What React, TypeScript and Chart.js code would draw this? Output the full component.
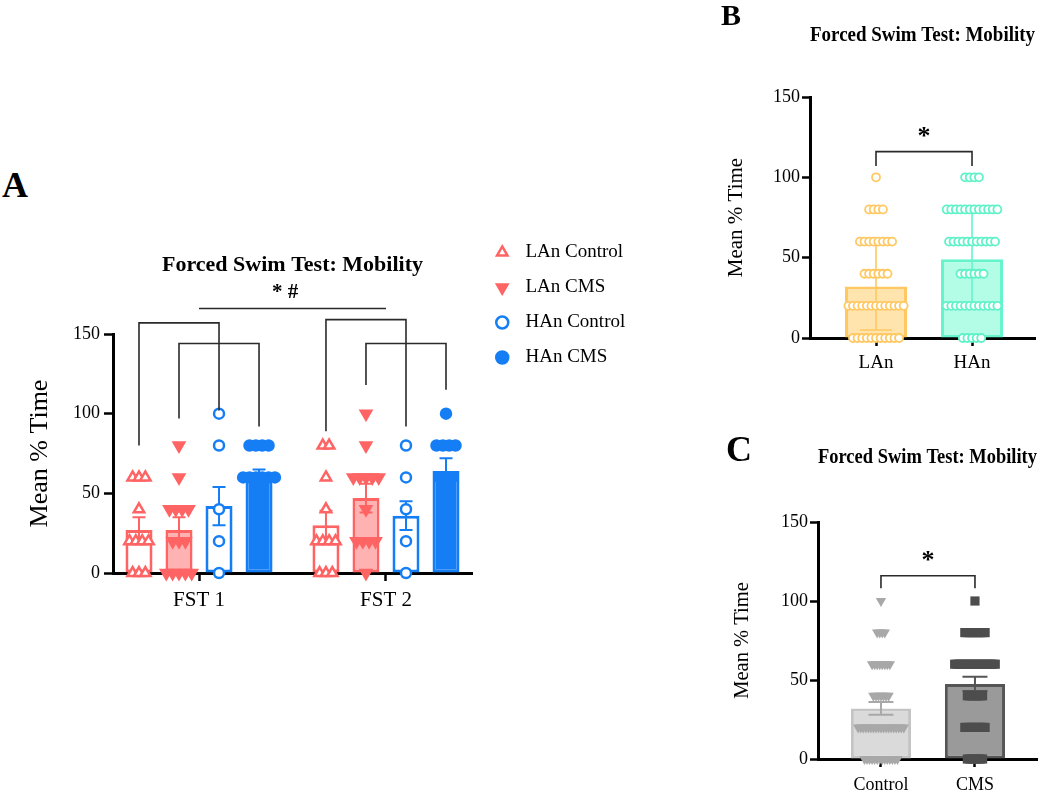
import React, { useEffect, useRef } from 'react';
import { Chart, registerables } from 'chart.js';

Chart.register(...registerables);

const SERIF = "'Times New Roman', 'Liberation Serif', serif";
Chart.defaults.font.family = SERIF;
Chart.defaults.color = '#000';

// ---------------- Panel A data ----------------
const fstCategories = ['FST 1', 'FST 2'];
const groupLabels = ['LAn Control', 'LAn CMS', 'HAn Control', 'HAn CMS'];
const yTickValues = [0, 50, 100, 150];

const meanLAnControl = [27, 30];
const meanLAnCMS = [27, 47];
const meanHAnControl = [42, 36];
const meanHAnCMS = [62, 64];

const semLAnControl = [8, 9];
const semLAnCMS = [8, 9];
const semHAnControl = [12, 9];
const semHAnCMS = [3, 8];

const ptsLAnControlFST1 = [60, 60, 60, 40, 20, 20, 20, 20, 0, 0, 0];
const ptsLAnControlFST2 = [80, 80, 60, 40, 20, 20, 20, 20, 0, 0, 0];
const ptsLAnCMSFST1 = [80, 60, 40, 40, 40, 40, 20, 20, 20, 0, 0, 0, 0, 0];
const ptsLAnCMSFST2 = [100, 80, 60, 60, 60, 60, 60, 40, 20, 20, 20, 20, 0];
const ptsHAnControlFST1 = [100, 80, 40, 20, 0];
const ptsHAnControlFST2 = [80, 60, 40, 20, 0];
const ptsHAnCMSFST1 = [80, 80, 80, 80, 60, 60, 60, 60, 60, 60];
const ptsHAnCMSFST2 = [100, 80, 80, 80, 80, 60, 60, 60];

// significance annotations (value units)
const sigBracketsA = [
  { cat: 0, from: 0, to: 2, leftY: 80, rightY: 102, topY: 157 },
  { cat: 0, from: 1, to: 3, leftY: 97, rightY: 92, topY: 144 },
  { cat: 1, from: 0, to: 2, leftY: 89, rightY: 92, topY: 159 },
  { cat: 1, from: 1, to: 3, leftY: 118, rightY: 115, topY: 144 },
];
const sigLineA = { fromCat: 0, toCat: 1, y: 166 };
const sigTextA = { text: '* #', x: 0.46, y: 176 };

// ---------------- Panel B data ----------------
const bCategories = ['LAn', 'HAn'];
const bMeans = [32, 49];
const bSD = [27, 30];
const bPtsLAn = [100, 80, 80, 80, 80, 60, 60, 60, 60, 60, 60, 60, 60, 40, 40, 40, 40, 40, 40,
  20, 20, 20, 20, 20, 20, 20, 20, 20, 20, 20, 20, 20, 0, 0, 0, 0, 0, 0, 0, 0, 0, 0, 0];
const bPtsHAn = [100, 100, 100, 100, 80, 80, 80, 80, 80, 80, 80, 80, 80, 80, 80, 80,
  60, 60, 60, 60, 60, 60, 60, 60, 60, 60, 60, 40, 40, 40, 40, 40, 40,
  20, 20, 20, 20, 20, 20, 20, 20, 20, 20, 20, 20, 0, 0, 0, 0, 0];
const sigB = { from: 0, to: 1, legY: 107, topY: 116, starY: 125 };

// ---------------- Panel C data ----------------
const cCategories = ['Control', 'CMS'];
const cMeans = [32, 47.5];
const cSEM = [4, 4.5];
const cPtsControl = [100, 80, 80, 80, 80, 60, 60, 60, 60, 60, 60, 60, 60, 40, 40, 40, 40, 40, 40, 40,
  20, 20, 20, 20, 20, 20, 20, 20, 20, 20, 20, 20, 20, 20, 20, 20, 20, 20, 20,
  0, 0, 0, 0, 0, 0, 0, 0, 0, 0, 0, 0, 0, 0];
const cPtsCMS = [100, 80, 80, 80, 80, 80, 80, 80, 80, 80,
  60, 60, 60, 60, 60, 60, 60, 60, 60, 60, 60, 60, 60, 60, 60, 60, 60,
  40, 40, 40, 40, 40, 40, 40, 20, 20, 20, 20, 20, 20, 20, 20, 20, 0, 0, 0, 0, 0, 0, 0];
const sigC = { from: 0, to: 1, legY: 108, topY: 116, starY: 125 };

// ---------------- helpers ----------------
type Pt = { x: number; y: number };
function spreadRow(values: number[], center: number, step: number): Pt[] {
  const counts = new Map<number, number>();
  const seen = new Map<number, number>();
  values.forEach((v) => counts.set(v, (counts.get(v) || 0) + 1));
  return values.map((v) => {
    const n = counts.get(v) || 1;
    const k = seen.get(v) || 0;
    seen.set(v, k + 1);
    return { x: center + (k - (n - 1) / 2) * step, y: v };
  });
}

const errorBarsPlugin = {
  id: 'errorBars',
  afterDatasetDraw(chart: any, args: any) {
    const ds = chart.data.datasets[args.index];
    if (!ds.errors) return;
    const ys = chart.scales.y;
    const ctx = chart.ctx;
    ctx.save();
    ctx.lineWidth = ds.errorWidth || 2;
    args.meta.data.forEach((el: any, i: number) => {
      const v = ds.data[i].y;
      const e = ds.errors[i];
      ctx.strokeStyle = Array.isArray(ds.errorColor) ? ds.errorColor[i] : ds.errorColor;
      const x = el.x;
      const yt = ys.getPixelForValue(v + e);
      const yb = ys.getPixelForValue(v - e);
      const h = ds.capHalf || 6;
      ctx.beginPath();
      ctx.moveTo(x, yt);
      ctx.lineTo(x, yb);
      ctx.moveTo(x - h, yt);
      ctx.lineTo(x + h, yt);
      ctx.moveTo(x - h, yb);
      ctx.lineTo(x + h, yb);
      ctx.stroke();
    });
    ctx.restore();
  },
};

const sigPlugin = {
  id: 'sigMarks',
  afterDatasetsDraw(chart: any, _a: any, opts: any) {
    const ctx = chart.ctx;
    const xs = chart.scales.x;
    const ys = chart.scales.y;
    ctx.save();
    ctx.strokeStyle = opts.color || '#222';
    ctx.lineWidth = opts.lineWidth || 1.5;
    (opts.brackets || []).forEach((b: any) => {
      const x1 = xs.getPixelForValue(b.x1);
      const x2 = xs.getPixelForValue(b.x2);
      ctx.beginPath();
      ctx.moveTo(x1, ys.getPixelForValue(b.leftY));
      ctx.lineTo(x1, ys.getPixelForValue(b.topY));
      ctx.lineTo(x2, ys.getPixelForValue(b.topY));
      ctx.lineTo(x2, ys.getPixelForValue(b.rightY));
      ctx.stroke();
    });
    ctx.fillStyle = '#000';
    ctx.textAlign = 'center';
    ctx.textBaseline = 'middle';
    (opts.labels || []).forEach((t: any) => {
      ctx.font = t.font;
      ctx.fillText(t.text, xs.getPixelForValue(t.x), ys.getPixelForValue(t.y));
    });
    ctx.restore();
  },
};

const legendShiftPlugin = {
  id: 'legendShift',
  afterLayout(chart: any, _a: any, opts: any) {
    const lg = chart.legend;
    if (lg && opts && opts.dx) {
      lg.left += opts.dx;
      lg.right += opts.dx;
    }
  },
};

function axisX(categories: string[], min: number, max: number, height: number, fontSize: number, pad: number) {
  return {
    type: 'linear',
    min,
    max,
    offset: false,
    afterBuildTicks: (s: any) => {
      s.ticks = categories.map((_c, i) => ({ value: i }));
    },
    afterFit: (s: any) => {
      s.height = height;
    },
    ticks: {
      callback: (_v: any, i: number) => categories[i],
      color: '#000',
      font: { family: SERIF, size: fontSize },
      padding: pad,
      maxRotation: 0,
      autoSkip: false,
    },
    grid: { display: true, drawOnChartArea: false, drawTicks: true, tickLength: 8, tickWidth: 2.5, tickColor: '#000', offset: false },
    border: { display: true, color: '#000', width: 3 },
  };
}

function axisY(width: number, tickFont: number, tickPad: number, tickLen: number, titleSize: number, titlePad: number) {
  return {
    type: 'linear',
    min: 0,
    max: 150,
    afterBuildTicks: (s: any) => {
      s.ticks = yTickValues.map((v) => ({ value: v }));
    },
    afterFit: (s: any) => {
      s.width = width;
    },
    ticks: { color: '#000', font: { family: SERIF, size: tickFont }, padding: tickPad },
    grid: { display: true, drawOnChartArea: false, drawTicks: true, tickLength: tickLen, tickWidth: 2.5, tickColor: '#000' },
    border: { display: true, color: '#000', width: 3 },
    title: {
      display: true,
      text: 'Mean % Time',
      color: '#000',
      font: { family: SERIF, size: titleSize },
      padding: { top: titlePad, bottom: 0 },
    },
  };
}

// ---------------- Panel A config ----------------
const RED = '#FF6464';
const RED_FILL = '#FFB2B2';
const BLUE = '#167EF5';
const catPctA = 0.856;
const barPctA = 0.675;
const groupOffset = (g: number) => -catPctA / 2 + (g + 0.5) * (catPctA / 4);

function buildA() {
  const means = [meanLAnControl, meanLAnCMS, meanHAnControl, meanHAnCMS];
  const sems = [semLAnControl, semLAnCMS, semHAnControl, semHAnCMS];
  const pts = [
    [ptsLAnControlFST1, ptsLAnControlFST2],
    [ptsLAnCMSFST1, ptsLAnCMSFST2],
    [ptsHAnControlFST1, ptsHAnControlFST2],
    [ptsHAnCMSFST1, ptsHAnCMSFST2],
  ];
  const ptStyles = [
    { style: 'triangle', rot: 0, bg: '#ffffff', border: RED, r: 6 },
    { style: 'triangle', rot: 180, bg: RED, border: RED, r: 6 },
    { style: 'circle', rot: 0, bg: '#ffffff', border: BLUE, r: 5 },
    { style: 'circle', rot: 0, bg: BLUE, border: BLUE, r: 5 },
  ];
  const barStyles = [
    { bg: '#ffffff', border: RED },
    { bg: RED_FILL, border: RED },
    { bg: '#ffffff', border: BLUE },
    { bg: BLUE, border: BLUE },
  ];
  const scatterSets = groupLabels.map((label, g) => ({
    type: 'scatter',
    label,
    order: 0,
    clip: false,
    showLine: false,
    data: fstCategories.flatMap((_c, c) => spreadRow(pts[g][c], c + groupOffset(g), 0.034)),
    pointStyle: ptStyles[g].style,
    pointRotation: ptStyles[g].rot,
    pointRadius: ptStyles[g].r,
    pointHoverRadius: ptStyles[g].r,
    pointBorderWidth: 2.5,
    pointBackgroundColor: ptStyles[g].bg,
    pointBorderColor: ptStyles[g].border,
    backgroundColor: ptStyles[g].bg,
    borderColor: ptStyles[g].border,
  }));
  const barSets = groupLabels.map((label, g) => ({
    type: 'bar',
    label,
    order: 1,
    data: means[g].map((m, c) => ({ x: c, y: m })),
    errors: sems[g],
    errorColor: barStyles[g].border,
    errorWidth: 2,
    capHalf: 6.5,
    backgroundColor: barStyles[g].bg,
    borderColor: barStyles[g].border,
    borderWidth: 3,
    borderSkipped: false,
    categoryPercentage: catPctA,
    barPercentage: barPctA,
  }));
  const brackets = sigBracketsA.map((b) => ({
    x1: b.cat + groupOffset(b.from),
    x2: b.cat + groupOffset(b.to),
    leftY: b.leftY,
    rightY: b.rightY,
    topY: b.topY,
  }));
  brackets.push({ x1: sigLineA.fromCat, x2: sigLineA.toCat, leftY: sigLineA.y, rightY: sigLineA.y, topY: sigLineA.y });
  return {
    type: 'bar',
    data: { datasets: [...scatterSets, ...barSets] },
    plugins: [errorBarsPlugin, sigPlugin, legendShiftPlugin],
    options: {
      responsive: false,
      animation: false,
      events: [],
      layout: { padding: { left: 0, right: 18, top: 0, bottom: 0 } },
      plugins: {
        title: {
          display: true,
          text: 'Forced Swim Test: Mobility',
          fullSize: false,
          color: '#000',
          font: { family: SERIF, size: 22, weight: 'bold', lineHeight: 1.2 },
          padding: { top: 24.8, bottom: 55.8 },
        },
        legend: {
          display: true,
          position: 'right',
          align: 'start',
          fullSize: true,
          maxWidth: 170,
          labels: {
            usePointStyle: true,
            boxWidth: 8.5,
            boxHeight: 8.5,
            padding: 16,
            color: '#000',
            font: { family: SERIF, size: 19 },
            filter: (item: any, data: any) => data.datasets[item.datasetIndex].type === 'scatter',
            generateLabels: (chart: any) =>
              (Chart.defaults.plugins.legend.labels as any)
                .generateLabels(chart)
                .map((it: any) => ({ ...it, text: '  ' + it.text + '            ' })),
          },
        },
        tooltip: { enabled: false },
        legendShift: { dx: 10 },
        sigMarks: {
          color: '#2a2a2a',
          lineWidth: 1.6,
          brackets,
          labels: [{ text: sigTextA.text, x: sigTextA.x, y: sigTextA.y, font: `bold 21px ${SERIF}` }],
        },
      },
      scales: {
        x: axisX(fstCategories, -0.46, 1.46, 50, 21, 6.4),
        y: axisY(113, 18, 4, 9, 26, 24.4),
      },
    },
  };
}

// ---------------- Panels B / C config ----------------
function buildSingle(p: any) {
  const scatterSets = p.categories.map((label: string, c: number) => ({
    type: 'scatter',
    label,
    order: 0,
    clip: false,
    showLine: false,
    data: spreadRow(p.pts[c], c, p.step),
    pointStyle: p.ptStyle[c],
    pointRotation: p.ptRot[c],
    pointRadius: p.ptRadius[c],
    pointHoverRadius: p.ptRadius[c],
    pointBorderWidth: p.ptBorderWidth,
    pointBackgroundColor: p.ptBg[c],
    pointBorderColor: p.ptBorder[c],
  }));
  const barSet = {
    type: 'bar',
    label: 'mean',
    order: 1,
    data: p.means.map((m: number, c: number) => ({ x: c, y: m })),
    errors: p.errs,
    errorColor: p.errColor,
    errorWidth: p.errWidth,
    capHalf: p.capHalf,
    backgroundColor: p.barBg,
    borderColor: p.barBorder,
    borderWidth: 3,
    borderSkipped: false,
    categoryPercentage: 1,
    barPercentage: p.barPct,
  };
  return {
    type: 'bar',
    data: { datasets: [...scatterSets, barSet] },
    plugins: [errorBarsPlugin, sigPlugin],
    options: {
      responsive: false,
      animation: false,
      events: [],
      layout: { padding: { left: 0, right: p.padRight, top: 0, bottom: 0 } },
      plugins: {
        title: {
          display: true,
          text: 'Forced Swim Test: Mobility',
          fullSize: false,
          color: '#000',
          font: { family: SERIF, size: p.titleSize, weight: 'bold', lineHeight: 1.2 },
          padding: p.titlePad,
        },
        legend: { display: false },
        tooltip: { enabled: false },
        sigMarks: {
          color: '#2a2a2a',
          lineWidth: 1.6,
          brackets: [{ x1: p.sig.from, x2: p.sig.to, leftY: p.sig.legY, rightY: p.sig.legY, topY: p.sig.topY }],
          labels: [{ text: '*', x: (p.sig.from + p.sig.to) / 2, y: p.sig.starY, font: `bold 26px ${SERIF}` }],
        },
      },
      scales: {
        x: axisX(p.categories, p.xMin, p.xMax, p.xHeight, p.xFont, p.xPad),
        y: axisY(p.yWidth, 18, 2, 8, p.yTitleSize, p.yTitlePad),
      },
    },
  };
}

function buildB() {
  return buildSingle({
    categories: bCategories,
    means: bMeans,
    errs: bSD,
    pts: [bPtsLAn, bPtsHAn],
    step: 0.048,
    ptStyle: ['circle', 'circle'],
    ptRot: [0, 0],
    ptRadius: [4, 4],
    ptBorderWidth: 1.8,
    ptBg: ['#ffffff', '#ffffff'],
    ptBorder: ['#FFC862', '#5FF2C8'],
    barBg: ['#FFE4AD', '#B3FCE6'],
    barBorder: ['#FFC862', '#66F4CC'],
    errColor: ['#FFC862', '#66F4CC'],
    errWidth: 1.6,
    capHalf: 16,
    barPct: 0.646,
    xMin: -0.6875,
    xMax: 1.656,
    xHeight: 47,
    xFont: 19,
    xPad: 5.6,
    padRight: 15,
    titleSize: 21.5,
    titlePad: { top: 22.1, bottom: 49.1 },
    yWidth: 110,
    yTitleSize: 21,
    yTitlePad: 23.4,
    sig: sigB,
  });
}

function buildC() {
  return buildSingle({
    categories: cCategories,
    means: cMeans,
    errs: cSEM,
    pts: [cPtsControl, cPtsCMS],
    step: 0.027,
    ptStyle: ['triangle', 'rect'],
    ptRot: [180, 0],
    ptRadius: [6, 6.5],
    ptBorderWidth: 0,
    ptBg: ['#A8A8A8', '#4D4D4D'],
    ptBorder: ['#A8A8A8', '#4D4D4D'],
    barBg: ['#DADADA', '#9A9A9A'],
    barBorder: ['#C4C4C4', '#555555'],
    errColor: ['#A8A8A8', '#555555'],
    errWidth: 2,
    capHalf: 12.5,
    barPct: 0.64,
    xMin: -0.67,
    xMax: 1.66,
    xHeight: 34,
    xFont: 18,
    xPad: 7.2,
    padRight: 13,
    titleSize: 21,
    titlePad: { top: 15.4, bottom: 51.4 },
    yWidth: 118,
    yTitleSize: 20.5,
    yTitlePad: 30.7,
    sig: sigC,
  });
}

function ChartCanvas(props: { build: () => any; left: number; top: number; width: number; height: number }) {
  const ref = useRef<HTMLCanvasElement | null>(null);
  useEffect(() => {
    if (!ref.current) return;
    const chart = new Chart(ref.current, props.build() as any);
    return () => chart.destroy();
  }, []);
  return (
    <canvas
      ref={ref}
      width={props.width}
      height={props.height}
      style={{ position: 'absolute', left: props.left, top: props.top, width: props.width, height: props.height }}
    />
  );
}

const letterStyle = (left: number, top: number, size: number): React.CSSProperties => ({
  position: 'absolute',
  left,
  top,
  fontFamily: SERIF,
  fontWeight: 'bold',
  fontSize: size,
  lineHeight: 1,
  color: '#000',
});

export default function App() {
  return (
    <div style={{ position: 'absolute', left: 0, top: 0, width: 1050, height: 793, background: '#fff', overflow: 'hidden' }}>
      <ChartCanvas build={buildA} left={0} top={227} width={660} height={396} />
      <ChartCanvas build={buildB} left={700} top={0} width={350} height={385} />
      <ChartCanvas build={buildC} left={700} top={430} width={350} height={363} />
      <div style={letterStyle(2, 167, 36)}>A</div>
      <div style={letterStyle(721, 0, 30)}>B</div>
      <div style={letterStyle(726, 431, 36)}>C</div>
    </div>
  );
}
